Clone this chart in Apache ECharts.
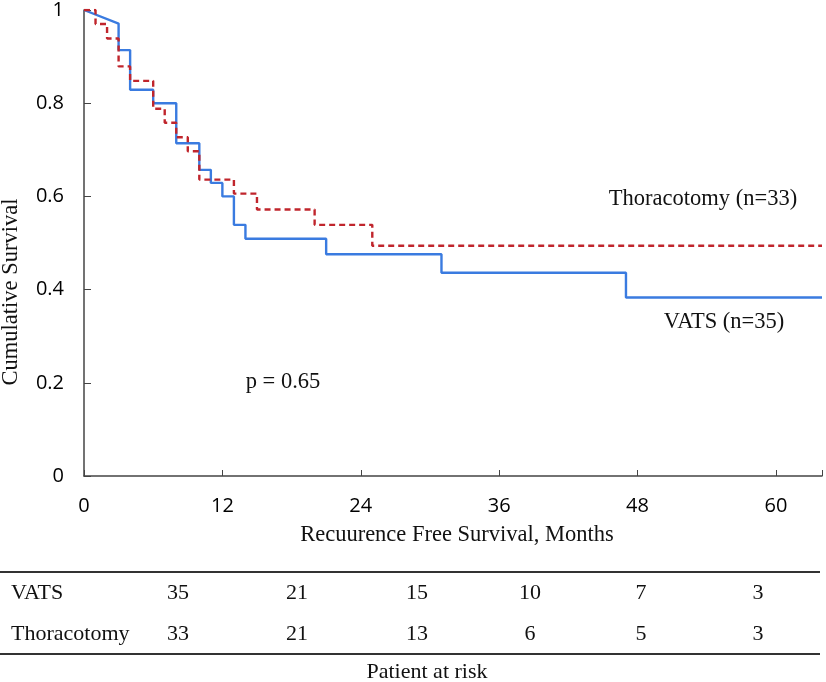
<!DOCTYPE html>
<html>
<head>
<meta charset="utf-8">
<script src="https://cdn.jsdelivr.net/npm/echarts@6/dist/echarts.min.js"></script>
<style>
html,body{margin:0;padding:0;background:#fff;}
#chart{width:826px;height:682px;}
</style>
</head>
<body>
<div id="chart"></div>
<script>
// ---- data ----
const xTicks = [0, 12, 24, 36, 48, 60];
const yTicks = [0, 0.2, 0.4, 0.6, 0.8, 1];

// Kaplan-Meier curve vertices (months, cumulative survival)
const vatsMonths = [0, 3, 3, 4, 4, 6, 6, 8, 8, 10, 10, 11, 11, 12, 12, 13, 13, 14, 14, 21, 21, 31, 31, 47, 47, 64];
const vatsSurvival = [1, 0.971, 0.914, 0.914, 0.829, 0.829, 0.8, 0.8, 0.714, 0.714, 0.657, 0.657, 0.629, 0.629, 0.6, 0.6, 0.539, 0.539, 0.509, 0.509, 0.476, 0.476, 0.436, 0.436, 0.383, 0.383];

const thorMonths = [0, 1, 1, 2, 2, 3, 3, 4, 4, 6, 6, 7, 7, 8, 8, 9, 9, 10, 10, 13, 13, 15, 15, 20, 20, 25, 25, 64];
const thorSurvival = [1, 1, 0.970, 0.970, 0.939, 0.939, 0.879, 0.879, 0.848, 0.848, 0.788, 0.788, 0.758, 0.758, 0.727, 0.727, 0.697, 0.697, 0.636, 0.636, 0.606, 0.606, 0.572, 0.572, 0.539, 0.539, 0.494, 0.494];

const riskGroups = ['VATS', 'Thoracotomy'];
const riskVats = [35, 21, 15, 10, 7, 3];
const riskThor = [33, 21, 13, 6, 5, 3];

const pValueText = 'p = 0.65';
const thorLabel = 'Thoracotomy (n=33)';
const vatsLabel = 'VATS (n=35)';
const xTitle = 'Recuurence Free Survival, Months';
const yTitle = 'Cumulative Survival';
const tableTitle = 'Patient at risk';

// ---- layout ----
const SERIF = '"Liberation Serif", "DejaVu Serif", serif';
const SANS = '"Open Sans", "Noto Sans", sans-serif';
const serifSize = 22.5;
const riskColX = [178, 297, 417, 530, 641, 758];
const riskRowY = [593, 634];

const chart = echarts.init(document.getElementById('chart'), null, {renderer: 'canvas'});

const pairs = (xs, ys) => xs.map((x, i) => [x, ys[i]]);

const graphics = [];
function txt(text, x, y, align, size) {
  graphics.push({
    type: 'text', x: x, y: y,
    style: {text: text, font: (size || serifSize) + 'px ' + SERIF, fill: '#111',
            textAlign: align || 'center', textVerticalAlign: 'middle'}
  });
}
txt(thorLabel, 703, 199);
txt(vatsLabel, 724, 322);
txt(pValueText, 283, 382);
txt(xTitle, 457, 535);
graphics.push({
  type: 'text', x: 11, y: 292, rotation: Math.PI / 2,
  style: {text: yTitle, font: serifSize + 'px ' + SERIF, fill: '#111',
          textAlign: 'center', textVerticalAlign: 'middle'}
});
// risk table
graphics.push({type: 'line', shape: {x1: 0, y1: 572, x2: 820, y2: 572}, style: {stroke: '#333', lineWidth: 2}});
graphics.push({type: 'line', shape: {x1: 0, y1: 654, x2: 820, y2: 654}, style: {stroke: '#333', lineWidth: 2}});
const riskRows = [riskVats, riskThor];
riskGroups.forEach((g, r) => {
  txt(g, 11, riskRowY[r], 'left', 22);
  riskRows[r].forEach((v, c) => txt(String(v), riskColX[c], riskRowY[r], 'center', 22));
});
txt(tableTitle, 427, 672, 'center', 22);

const option = {
  animation: false,
  backgroundColor: '#fff',
  grid: {left: 84, right: 4, top: 10, bottom: 206, containLabel: false},
  xAxis: {
    type: 'value', min: 0, max: 64, interval: 12,
    axisLine: {show: true, lineStyle: {color: '#444', width: 1.5}},
    axisTick: {show: true, inside: true, length: 6, lineStyle: {color: '#444', width: 1}},
    splitLine: {show: false},
    axisLabel: {
      margin: 20, color: '#000', fontFamily: SANS, fontSize: 20,
      customValues: xTicks,
      formatter: v => String(v)
    }
  },
  yAxis: {
    type: 'value', min: 0, max: 1, interval: 0.2,
    axisLine: {show: true, lineStyle: {color: '#444', width: 1.5}},
    axisTick: {show: true, inside: true, length: 7, lineStyle: {color: '#444', width: 1}},
    splitLine: {show: false},
    axisLabel: {
      margin: 20, color: '#000', fontFamily: SANS, fontSize: 20,
      formatter: v => {
        const t = yTicks.find(k => Math.abs(k - v) < 1e-6);
        return t === undefined ? '' : String(t);
      }
    }
  },
  series: [
    {
      name: 'VATS', type: 'line', showSymbol: false, symbol: 'none',
      data: pairs(vatsMonths, vatsSurvival),
      lineStyle: {color: '#3a7be0', width: 2.4},
      z: 3
    },
    {
      name: 'Thoracotomy', type: 'line', showSymbol: false, symbol: 'none',
      data: pairs(thorMonths, thorSurvival),
      lineStyle: {color: '#c0252c', width: 2.4, type: [6, 4]},
      z: 4
    }
  ],
  graphic: graphics
};
chart.setOption(option);
</script>
</body>
</html>
